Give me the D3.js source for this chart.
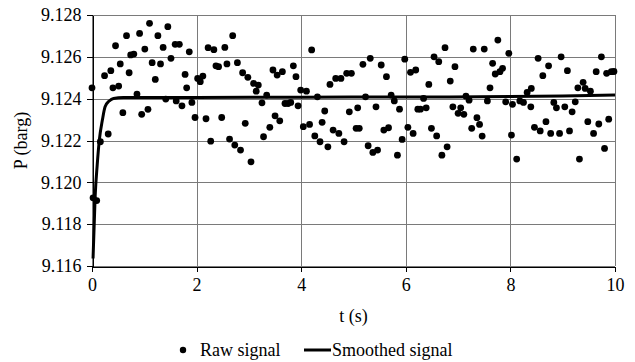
<!DOCTYPE html>
<html>
<head>
<meta charset="utf-8">
<script src="https://cdn.jsdelivr.net/npm/d3@7/dist/d3.min.js"></script>
<style>
  html, body { margin: 0; padding: 0; background: #fff; }
  svg { display: block; }
  text { font-family: "Liberation Serif", "Times New Roman", serif; fill: #000; }
</style>
</head>
<body>
<svg id="chart" width="635" height="362"></svg>
<script>
// Raw pressure samples: time (s) and gauge pressure (barg)
const rawTime = [
  0.00, 0.02, 0.09, 0.16, 0.24, 0.31, 0.36, 0.40, 0.45, 0.51, 0.54, 0.59, 0.66, 0.71, 0.74, 0.80,
  0.86, 0.91, 0.95, 1.01, 1.07, 1.10, 1.15, 1.21, 1.26, 1.31, 1.36, 1.41, 1.45, 1.51, 1.59, 1.61,
  1.67, 1.72, 1.78, 1.81, 1.86, 1.91, 1.97, 2.02, 2.07, 2.12, 2.18, 2.22, 2.27, 2.33, 2.37, 2.42,
  2.48, 2.54, 2.58, 2.63, 2.69, 2.73, 2.78, 2.84, 2.88, 2.93, 2.98, 3.04, 3.09, 3.14, 3.18, 3.25,
  3.28, 3.34, 3.40, 3.46, 3.50, 3.54, 3.59, 3.64, 3.69, 3.75, 3.80, 3.85, 3.90, 3.94, 3.99, 4.04,
  4.10, 4.16, 4.20, 4.26, 4.31, 4.36, 4.40, 4.45, 4.51, 4.55, 4.61, 4.66, 4.72, 4.76, 4.82, 4.87,
  4.92, 4.96, 5.05, 5.08, 5.11, 5.18, 5.23, 5.28, 5.32, 5.37, 5.43, 5.46, 5.53, 5.58, 5.63, 5.67,
  5.72, 5.78, 5.84, 5.88, 5.93, 5.98, 6.04, 6.09, 6.14, 6.19, 6.23, 6.28, 6.34, 6.39, 6.44, 6.49,
  6.54, 6.59, 6.63, 6.69, 6.75, 6.79, 6.85, 6.90, 6.94, 7.00, 7.05, 7.11, 7.15, 7.21, 7.26, 7.29,
  7.36, 7.41, 7.46, 7.50, 7.56, 7.61, 7.66, 7.71, 7.76, 7.80, 7.85, 7.91, 7.97, 8.02, 8.04, 8.12,
  8.18, 8.25, 8.32, 8.39, 8.40, 8.46, 8.53, 8.57, 8.62, 8.68, 8.73, 8.77, 8.83, 8.88, 8.94, 8.97,
  9.04, 9.09, 9.13, 9.18, 9.24, 9.29, 9.32, 9.39, 9.43, 9.48, 9.53, 9.59, 9.64, 9.69, 9.74, 9.80,
  9.84, 9.88, 9.93, 9.98
];
const rawPressure = [
  9.12452, 9.11926, 9.11913, 9.12194, 9.12510, 9.12231, 9.12534, 9.12452, 9.12653, 9.12460, 9.12566, 9.12333, 9.12701, 9.12524, 9.12609, 9.12613,
  9.12422, 9.12712, 9.12325, 9.12637, 9.12349, 9.12760, 9.12572, 9.12492, 9.12701, 9.12566, 9.12645, 9.12398, 9.12744, 9.12593, 9.12660, 9.12389,
  9.12660, 9.12366, 9.12516, 9.12452, 9.12624, 9.12382, 9.12310, 9.12497, 9.12481, 9.12508, 9.12304, 9.12644, 9.12197, 9.12634, 9.12557, 9.12553,
  9.12310, 9.12645, 9.12566, 9.12207, 9.12701, 9.12178, 9.12572, 9.12154, 9.12524, 9.12282, 9.12502, 9.12098, 9.12473, 9.12436, 9.12465, 9.12380,
  9.12218, 9.12417, 9.12263, 9.12537, 9.12318, 9.12513, 9.12294, 9.12529, 9.12377, 9.12377, 9.12382, 9.12557, 9.12505, 9.12366, 9.12441, 9.12266,
  9.12436, 9.12277, 9.12633, 9.12222, 9.12409, 9.12194, 9.12287, 9.12341, 9.12170, 9.12468, 9.12250, 9.12497, 9.12234, 9.12497, 9.12194, 9.12521,
  9.12337, 9.12521, 9.12258, 9.12356, 9.12258, 9.12564, 9.12409, 9.12175, 9.12593, 9.12143, 9.12361, 9.12154, 9.12561, 9.12250, 9.12505, 9.12261,
  9.12417, 9.12389, 9.12130, 9.12350, 9.12205, 9.12589, 9.12263, 9.12526, 9.12234, 9.12537, 9.12350, 9.12350, 9.12401, 9.12356, 9.12468, 9.12258,
  9.12600, 9.12222, 9.12577, 9.12130, 9.12644, 9.12170, 9.12484, 9.12361, 9.12553, 9.12330, 9.12356, 9.12325, 9.12412, 9.12393, 9.12258, 9.12637,
  9.12309, 9.12277, 9.12221, 9.12637, 9.12389, 9.12452, 9.12569, 9.12518, 9.12680, 9.12529, 9.12545, 9.12385, 9.12617, 9.12226, 9.12373, 9.12111,
  9.12389, 9.12382, 9.12430, 9.12361, 9.12449, 9.12263, 9.12593, 9.12246, 9.12510, 9.12290, 9.12557, 9.12234, 9.12382, 9.12356, 9.12234, 9.12600,
  9.12361, 9.12534, 9.12246, 9.12337, 9.12385, 9.12452, 9.12111, 9.12478, 9.12449, 9.12290, 9.12436, 9.12234, 9.12529, 9.12279, 9.12600, 9.12162,
  9.12521, 9.12302, 9.12529, 9.12530
];

// Smoothed (filtered) signal
const smoothTime = [0.02, 0.06, 0.10, 0.14, 0.20, 0.25, 0.33, 0.41, 0.60, 2, 4, 6, 8, 9, 10];
const smoothPressure = [9.11636, 9.11931, 9.12085, 9.12202, 9.12300, 9.12361, 9.12389, 9.12401, 9.12405,
                        9.12406, 9.12407, 9.12408, 9.12410, 9.12413, 9.12418];

// Axis ticks
const xTicks = [0, 2, 4, 6, 8, 10];
const yTicks = [9.116, 9.118, 9.120, 9.122, 9.124, 9.126, 9.128];

const legendLabels = ["Raw signal", "Smoothed signal"];

const raw = rawTime.map((t, i) => ({ t, p: rawPressure[i] }));
const smooth = smoothTime.map((t, i) => ({ t, p: smoothPressure[i] }));

const margin = { left: 92, right: 20, top: 15, bottom: 96 };
const width = 635, height = 362;
const svg = d3.select("#chart");

const x = d3.scaleLinear().domain([0, 10]).range([margin.left, width - margin.right]);
const y = d3.scaleLinear().domain([9.116, 9.128]).range([height - margin.bottom, margin.top]);

const fontSize = 18;

// Gridlines
const grid = svg.append("g").attr("shape-rendering", "crispEdges");
grid.selectAll("line.h").data(yTicks).join("line")
  .attr("x1", x(0)).attr("x2", x(10))
  .attr("y1", d => Math.round(y(d)) + 0.5).attr("y2", d => Math.round(y(d)) + 0.5)
  .attr("stroke", "#7a7a7a").attr("stroke-width", 1);
grid.selectAll("line.v").data(xTicks).join("line")
  .attr("y1", y(9.116)).attr("y2", y(9.128))
  .attr("x1", d => Math.round(x(d)) + 0.5).attr("x2", d => Math.round(x(d)) + 0.5)
  .attr("stroke", "#7a7a7a").attr("stroke-width", 1);

// Axes
const xAxis = svg.append("g")
  .attr("transform", `translate(0,${Math.round(y(9.116)) + 0.5})`)
  .call(d3.axisBottom(x).tickValues(xTicks).tickFormat(d3.format("d")).tickSize(5).tickSizeOuter(0));
const yAxis = svg.append("g")
  .attr("transform", `translate(${Math.round(x(0)) + 0.5},0)`)
  .call(d3.axisLeft(y).tickValues(yTicks).tickFormat(d3.format(".3f")).tickSize(6).tickSizeOuter(0));

[xAxis, yAxis].forEach(g => {
  g.selectAll("path, line").attr("stroke", "#000").attr("shape-rendering", "crispEdges");
  g.selectAll("text").attr("font-size", fontSize)
    .attr("font-family", "'Liberation Serif', serif").attr("fill", "#000");
});
xAxis.selectAll("text").attr("dy", "0.9em").attr("y", 8);
yAxis.selectAll("text").attr("x", -11);

// Raw signal dots
svg.append("g").selectAll("circle").data(raw).join("circle")
  .attr("cx", d => x(d.t)).attr("cy", d => y(d.p)).attr("r", 3.4)
  .attr("fill", "#000");

// Smoothed signal line
svg.append("path").datum(smooth)
  .attr("d", d3.line().x(d => x(d.t)).y(d => y(d.p)).curve(d3.curveMonotoneX))
  .attr("fill", "none").attr("stroke", "#000").attr("stroke-width", 3)
  .attr("stroke-linejoin", "round");

// Axis titles
svg.append("text")
  .attr("x", x(5)).attr("y", 322)
  .attr("text-anchor", "middle").attr("font-size", fontSize)
  .text("t (s)");
svg.append("text")
  .attr("transform", `translate(27,${(y(9.116) + y(9.128)) / 2}) rotate(-90)`)
  .attr("text-anchor", "middle").attr("font-size", fontSize)
  .text("P (barg)");

// Legend
const legend = svg.append("g");
legend.append("circle").attr("cx", 183).attr("cy", 350).attr("r", 3.2).attr("fill", "#000");
legend.append("text").attr("x", 200).attr("y", 356).attr("font-size", fontSize).text(legendLabels[0]);
legend.append("line").attr("x1", 304).attr("x2", 331).attr("y1", 350).attr("y2", 350)
  .attr("stroke", "#000").attr("stroke-width", 3);
legend.append("text").attr("x", 332).attr("y", 356).attr("font-size", fontSize).text(legendLabels[1]);
</script>
</body>
</html>
